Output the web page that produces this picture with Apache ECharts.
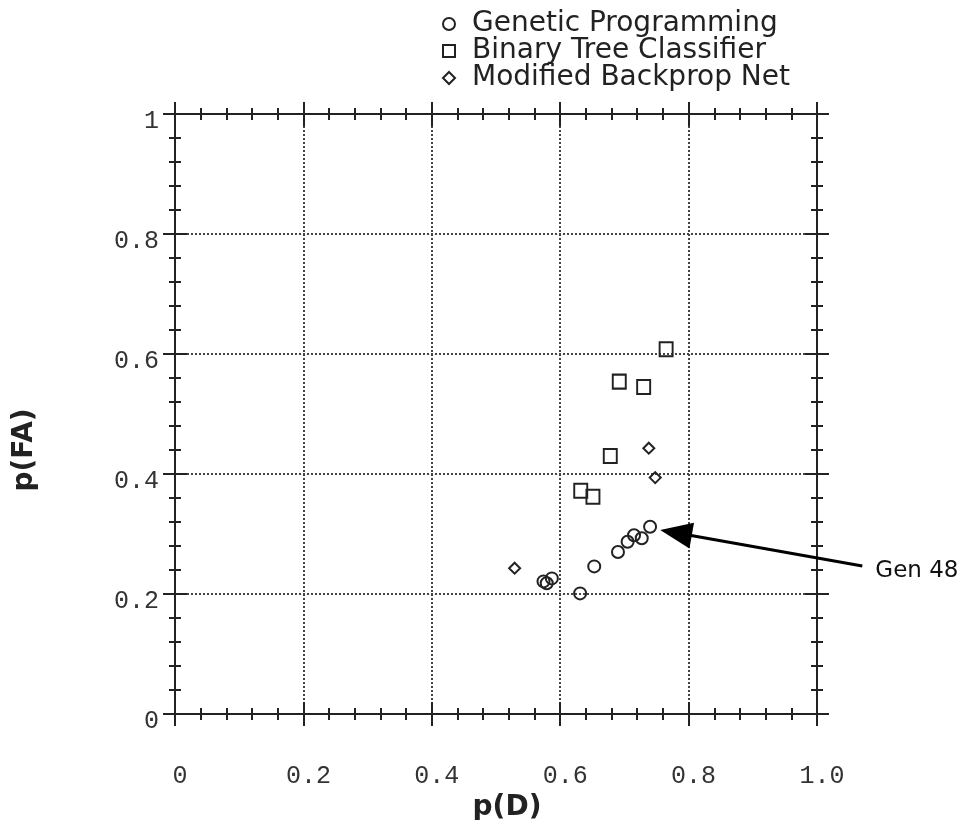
<!DOCTYPE html>
<html>
<head>
<meta charset="utf-8">
<script src="https://cdn.jsdelivr.net/npm/echarts@6/dist/echarts.min.js"></script>
<style>
html,body{margin:0;padding:0;background:#fff;}
#chart{width:961px;height:820px;}
</style>
</head>
<body>
<div id="chart"></div>
<script>
// ---- data ----
const seriesNames = ['Genetic Programming', 'Binary Tree Classifier', 'Modified Backprop Net'];
// [p(D), p(FA)]
const geneticProgramming = [[0.740,0.312],[0.727,0.293],[0.715,0.298],[0.705,0.287],[0.690,0.270],[0.653,0.246],[0.631,0.201],[0.587,0.226],[0.579,0.218],[0.574,0.221]];
const binaryTreeClassifier = [[0.765,0.608],[0.692,0.554],[0.730,0.545],[0.678,0.430],[0.632,0.372],[0.651,0.362]];
const modifiedBackpropNet = [[0.738,0.443],[0.748,0.394],[0.529,0.243]];
const xTickLabels = ['0','0.2','0.4','0.6','0.8','1.0'];
const yTickLabels = ['0','0.2','0.4','0.6','0.8','1'];
const xAxisName = 'p(D)';
const yAxisName = 'p(FA)';
const annotationText = 'Gen 48';
// annotation arrow, in data units: tail (next to the text) and tip
const arrowTail = [1.0706, 0.2467];
const arrowTip = [0.7558, 0.3067];

const chart = echarts.init(document.getElementById('chart'));
const ink = '#222';
const labelIdx = v => Math.round(v / 0.2);

function baseAxis(extra) {
  return Object.assign({
    type: 'value', min: 0, max: 1, interval: 0.2,
    axisLine: { show: true, onZero: false, lineStyle: { color: ink, width: 2 } },
    axisTick: { show: true, length: 12, lineStyle: { color: ink, width: 2 } },
    minorTick: { show: true, splitNumber: 5, length: 6, lineStyle: { color: ink, width: 2 } },
    splitLine: { show: false },
    axisLabel: { show: false }
  }, extra);
}
const insideTick = { show: true, inside: true, length: 12, lineStyle: { color: ink, width: 2 } };
const gridLine = { show: true, lineStyle: { color: '#444', width: 2, type: [2, 2] } };
const tickFont = { fontFamily: 'Liberation Mono', fontSize: 25, color: '#333' };

const hollow = { color: 'rgba(0,0,0,0)', borderColor: ink, borderWidth: 2, opacity: 1 };

function renderArrow(params, api) {
  const tail = api.coord([api.value(0), api.value(1)]);
  const tip = api.coord([api.value(2), api.value(3)]);
  const dx = tip[0] - tail[0], dy = tip[1] - tail[1];
  const len = Math.sqrt(dx * dx + dy * dy);
  const ux = dx / len, uy = dy / len;
  const headLen = 32, headHalf = 13;
  const bx = tip[0] - ux * headLen, by = tip[1] - uy * headLen;
  return {
    type: 'group',
    children: [
      { type: 'line', shape: { x1: tail[0], y1: tail[1], x2: bx + ux * 2, y2: by + uy * 2 },
        style: { stroke: '#000', lineWidth: 3 } },
      { type: 'polygon', shape: { points: [
          [tip[0], tip[1]],
          [bx - uy * headHalf, by + ux * headHalf],
          [bx + uy * headHalf, by - ux * headHalf]
        ] }, style: { fill: '#000' } },
      { type: 'text', x: tail[0] + 13, y: tail[1] + 5,
        style: { text: annotationText, fill: '#111', font: '23px "DejaVu Sans"',
          verticalAlign: 'middle', align: 'left' } }
    ]
  };
}

const option = {
  animation: false,
  backgroundColor: '#fff',
  grid: { left: 175, right: 144, top: 114, bottom: 106, containLabel: false, outerBoundsMode: 'none' },
  legend: {
    orient: 'vertical', left: 437, top: 5, itemGap: -1,
    itemWidth: 12, itemHeight: 12,
    textStyle: { fontFamily: 'DejaVu Sans', fontSize: 28, color: ink, lineHeight: 27, padding: [0, 0, 0, 12] },
    data: [
      { name: seriesNames[0], icon: 'circle' },
      { name: seriesNames[1], icon: 'rect' },
      { name: seriesNames[2], icon: 'diamond' }
    ]
  },
  xAxis: [
    baseAxis({
      position: 'bottom', axisTick: insideTick,
      splitLine: gridLine,
      axisLabel: Object.assign({ show: true, margin: 50, padding: [0, 0, 0, 10],
        formatter: v => xTickLabels[labelIdx(v)] }, tickFont),
      name: xAxisName, nameLocation: 'middle', nameGap: 74,
      nameTextStyle: { fontFamily: 'DejaVu Sans', fontWeight: 'bold', fontSize: 28, color: ink, padding: [0, 0, 0, 22] }
    }),
    baseAxis({ position: 'bottom' }),
    baseAxis({ position: 'top', axisTick: insideTick }),
    baseAxis({ position: 'top' })
  ],
  yAxis: [
    baseAxis({
      position: 'left', axisTick: insideTick,
      splitLine: gridLine,
      axisLabel: Object.assign({ show: true, margin: 16, verticalAlign: 'top', lineHeight: 14,
        formatter: v => yTickLabels[labelIdx(v)] }, tickFont),
      name: yAxisName, nameLocation: 'middle', nameGap: 136,
      nameTextStyle: { fontFamily: 'DejaVu Sans', fontWeight: 'bold', fontSize: 28, color: ink, padding: [0, 72, 0, 0] }
    }),
    baseAxis({ position: 'left' }),
    baseAxis({ position: 'right', axisTick: insideTick }),
    baseAxis({ position: 'right' })
  ],
  series: [
    { name: seriesNames[0], type: 'scatter', symbol: 'circle', symbolSize: 12,
      itemStyle: hollow, data: geneticProgramming },
    { name: seriesNames[1], type: 'scatter', symbol: 'rect', symbolSize: [13, 14],
      itemStyle: hollow, data: binaryTreeClassifier },
    { name: seriesNames[2], type: 'scatter', symbol: 'diamond', symbolSize: 11,
      itemStyle: hollow, data: modifiedBackpropNet },
    { name: 'annotation', type: 'custom', clip: false, silent: true,
      encode: { x: [0, 2], y: [1, 3] },
      data: [[arrowTail[0], arrowTail[1], arrowTip[0], arrowTip[1]]],
      renderItem: renderArrow }
  ]
};
chart.setOption(option);
</script>
</body>
</html>
